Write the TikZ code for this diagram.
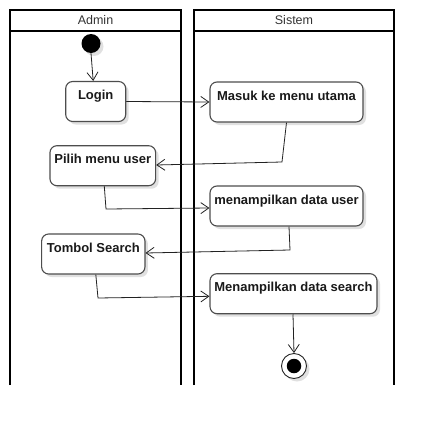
\documentclass[tikz,border=0pt]{standalone}
\usepackage{fontspec}
\setmainfont{Liberation Sans}
\usetikzlibrary{arrows.meta,shadows,calc}
\definecolor{boxline}{HTML}{4D4D4D}
\definecolor{txt}{HTML}{1A1A1A}
\definecolor{conn}{HTML}{222222}
\tikzset{
  lane/.style={draw=black, line width=2pt},
  lanehead/.style={font=\fontsize{12.5}{14}\selectfont, text=black!80, anchor=center},
  actbox/.style={draw=boxline, line width=1.1pt, rounded corners=7pt, fill=white,
    inner xsep=0pt, inner ysep=0pt, text height=18pt, text depth=22pt,
    font=\bfseries\fontsize{13}{15}\selectfont, text=txt,
    drop shadow={shadow xshift=3pt, shadow yshift=-3pt, fill=black!12, opacity=1}},
  flow/.style={draw=conn, line width=0.8pt, -{Straight Barb[length=8pt,width=11pt,line width=0.8pt]}},
  startdot/.style={circle, fill=black, minimum size=19pt, inner sep=0pt,
    drop shadow={shadow xshift=3pt, shadow yshift=-3pt, fill=black!12, opacity=1}},
}
\begin{document}
\begin{tikzpicture}[x=1pt,y=-1pt]
\useasboundingbox (0,0) rectangle (434,426);
% swimlanes
\draw[lane] (10,385) -- (10,10) -- (181,10) -- (181,385);
\draw[lane] (10,31) -- (181,31);
\draw[lane] (194,385) -- (194,10) -- (394,10) -- (394,385);
\draw[lane] (194,31) -- (394,31);
\node[lanehead] (hAdmin) at (95.5,20.5) {Admin};
\node[lanehead] (hSistem) at (294,20.5) {Sistem};
% nodes
\node[startdot] (start) at (91,43.5) {};
\node[actbox, minimum width=60pt] (login) at (95.7,101.5) {Login};
\node[actbox, minimum width=153pt] (masuk) at (286.5,102) {Masuk ke menu utama};
\node[actbox, minimum width=105.7pt] (pilih) at (102.8,165.7) {Pilih menu user};
\node[actbox, minimum width=153pt] (tampil) at (286.5,206) {menampilkan data user};
\node[actbox, minimum width=103.3pt] (tombol) at (93.3,254) {Tombol Search};
\node[actbox, minimum width=167pt] (search) at (293.5,293.7) {Menampilkan data search};
\node[circle, draw=black!85, line width=0.9pt, fill=white, minimum size=25pt, inner sep=0pt,
  drop shadow={shadow xshift=3pt, shadow yshift=-3pt, fill=black!12, opacity=1}] (endo) at (294,366) {};
\node[circle, fill=black, minimum size=14.5pt, inner sep=0pt] (endi) at (294,366) {};
% waypoints
\coordinate (w1) at (282,162);
\coordinate (w2) at (106,209);
\coordinate (w3) at (290,250);
\coordinate (w4) at (98,298);
% connectors
\draw[flow] (start.south) -- ($(login.north)+(-2.5,0)$);
\draw[flow] (login.east) -- (masuk.west);
\draw[flow] (masuk.south) -- (w1) -- ($(pilih.east)+(0,-0.7)$);
\draw[flow] ($(pilih.south)+(1.5,0)$) -- (w2) -- ($(tampil.west)+(0,2)$);
\draw[flow] ($(tampil.south)+(2.5,0)$) -- (w3) -- ($(tombol.east)+(0,-1)$);
\draw[flow] ($(tombol.south)+(2.5,0)$) -- (w4) -- ($(search.west)+(0,2.6)$);
\draw[flow] ($(search.south)+(-0.5,0)$) -- (endo.north);
\end{tikzpicture}
\end{document}
